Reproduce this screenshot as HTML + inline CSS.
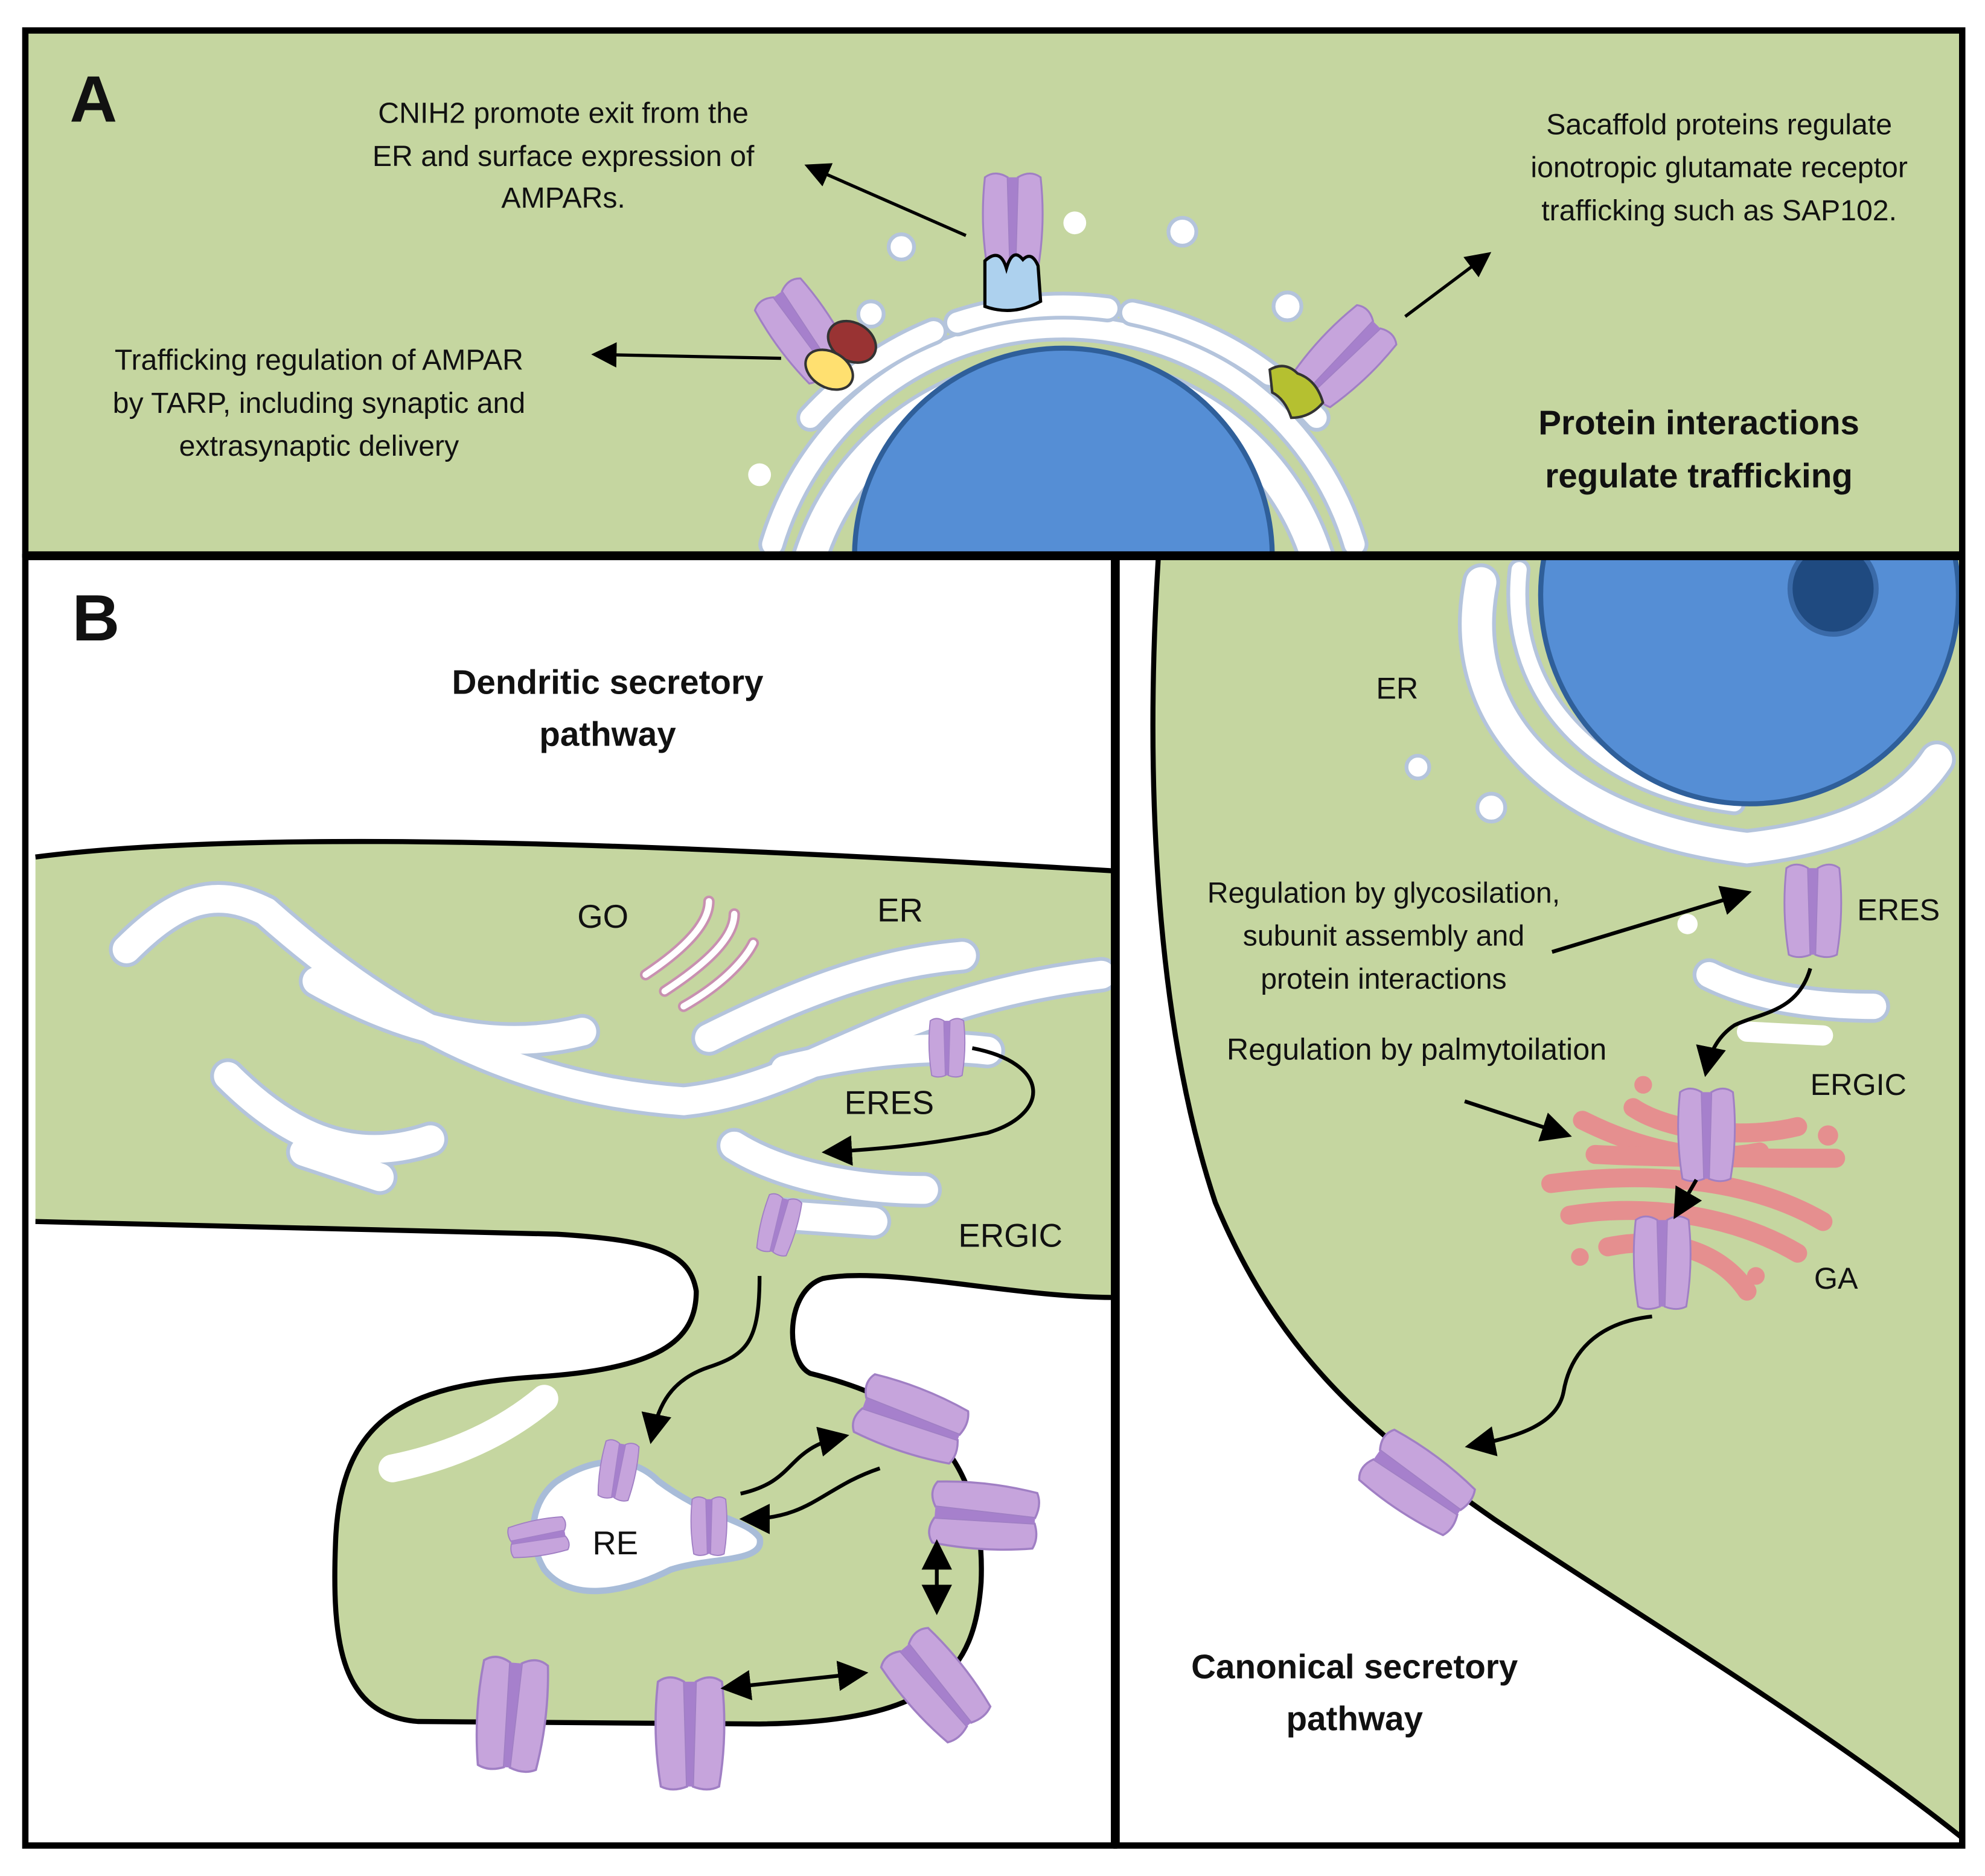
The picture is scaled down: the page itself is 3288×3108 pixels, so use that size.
<!DOCTYPE html>
<html><head><meta charset="utf-8"><style>
html,body{margin:0;padding:0;background:#fff}
svg{display:block}
text{font-family:"Liberation Sans",sans-serif;fill:#111}
</style></head><body>
<svg width="3288" height="3108" viewBox="0 0 1568 1482" xmlns="http://www.w3.org/2000/svg">
<defs>
<marker id="ah" markerWidth="8" markerHeight="8" refX="6" refY="4" orient="auto" markerUnits="strokeWidth"><path d="M0,0 L8,4 L0,8 Z" fill="#000"/></marker>
<marker id="ah2" markerWidth="8" markerHeight="8" refX="2" refY="4" orient="auto-start-reverse" markerUnits="strokeWidth"><path d="M0,0 L8,4 L0,8 Z" fill="#000"/></marker>
<g id="rec">
<path d="M-22,-36 Q-14,-42 -4,-36 L-2,36 Q-12,40 -20,36 Q-26,0 -22,-36Z" fill="#c6a4dc" stroke="#a07fc4" stroke-width="1.5"/>
<path d="M22,-36 Q14,-42 4,-36 L2,36 Q12,40 20,36 Q26,0 22,-36Z" fill="#c6a4dc" stroke="#a07fc4" stroke-width="1.5"/>
<path d="M-4,-36 L4,-36 L2,36 L-2,36Z" fill="#a680cc"/>
</g>
<g id="recs"><use href="#rec" transform="scale(0.6)"/></g>
<clipPath id="cpA"><rect x="20" y="24" width="1530" height="414"/></clipPath>
<clipPath id="cpR"><rect x="882" y="442" width="666" height="1016"/></clipPath>
<clipPath id="cpL"><rect x="20" y="442" width="860" height="1016"/></clipPath>
</defs>

<!-- Panel A -->
<rect x="20" y="24" width="1530" height="414" fill="#c5d6a0"/>
<g clip-path="url(#cpA)">
 <g fill="none" stroke-linecap="round">
  <path d="M640,440 A210,210 0 0 1 1040,440" stroke="#b4c4dc" stroke-width="30"/>
  <path d="M640,440 A210,210 0 0 1 1040,440" stroke="#fff" stroke-width="24"/>
  <path d="M610,430 A240,240 0 0 1 1070,430" stroke="#b4c4dc" stroke-width="22"/>
  <path d="M610,430 A240,240 0 0 1 1070,430" stroke="#fff" stroke-width="16"/>
  <path d="M640,330 A270,270 0 0 1 1040,330" stroke="#b4c4dc" stroke-width="22" stroke-dasharray="120 20"/>
  <path d="M640,330 A270,270 0 0 1 1040,330" stroke="#fff" stroke-width="16" stroke-dasharray="120 20"/>
 </g>
 <circle cx="840" cy="440" r="165" fill="#558ed5" stroke="#2f5f9a" stroke-width="4"/>
 <circle cx="688" cy="248" r="10" fill="#fff" stroke="#b4c4dc" stroke-width="3"/>
 <circle cx="934" cy="183" r="11" fill="#fff" stroke="#b4c4dc" stroke-width="3"/>
 <circle cx="1017" cy="242" r="11" fill="#fff" stroke="#b4c4dc" stroke-width="3"/>
 <circle cx="849" cy="176" r="9" fill="#fff"/>
 <circle cx="600" cy="375" r="9" fill="#fff"/>
 <circle cx="712" cy="195" r="10" fill="#fff" stroke="#b4c4dc" stroke-width="3"/>
</g>
<use href="#rec" transform="translate(800,176)"/>
<path d="M778,206 Q790,195 795,212 Q800,195 808,205 Q815,198 820,210 L822,238 Q800,250 778,242 Z" fill="#add1ee" stroke="#000" stroke-width="2.5"/>
<use href="#rec" transform="translate(635,262) rotate(-35)"/>
<ellipse cx="673" cy="270" rx="20" ry="15" transform="rotate(30 673 270)" fill="#993333" stroke="#333" stroke-width="2"/>
<ellipse cx="655" cy="292" rx="20" ry="14" transform="rotate(30 655 292)" fill="#ffe070" stroke="#333" stroke-width="2"/>
<use href="#rec" transform="translate(1062,282) rotate(45)"/>
<path d="M1003,292 Q1015,285 1025,295 Q1040,300 1045,318 Q1035,330 1020,330 Q1015,315 1005,310 Z" fill="#b5c030" stroke="#333" stroke-width="2"/>

<text x="55" y="96" font-size="52" font-weight="bold" style="font-weight:bold">A</text>
<g font-size="23" text-anchor="middle">
 <text x="445" y="97">CNIH2 promote exit from the</text>
 <text x="445" y="131">ER and surface expression of</text>
 <text x="445" y="164">AMPARs.</text>
 <text x="252" y="292">Trafficking regulation of AMPAR</text>
 <text x="252" y="326">by TARP, including synaptic and</text>
 <text x="252" y="360">extrasynaptic delivery</text>
 <text x="1358" y="106">Sacaffold proteins regulate</text>
 <text x="1358" y="140">ionotropic glutamate receptor</text>
 <text x="1358" y="174">trafficking such as SAP102.</text>
</g>
<g font-size="27" font-weight="bold" text-anchor="middle">
 <text x="1342" y="343">Protein interactions</text>
 <text x="1342" y="385">regulate trafficking</text>
</g>
<g stroke="#000" stroke-width="2.5" fill="none">
 <line x1="763" y1="186" x2="640" y2="132" marker-end="url(#ah)"/>
 <line x1="617" y1="283" x2="472" y2="280" marker-end="url(#ah)"/>
 <line x1="1110" y1="250" x2="1174" y2="202" marker-end="url(#ah)"/>
</g>

<!-- Panel B left -->
<g clip-path="url(#cpL)">
<path d="M28,677 C200,655 500,665 880,688 L880,1025 C800,1025 700,1000 650,1010 C620,1020 620,1075 640,1085 C700,1100 780,1130 775,1250 C770,1320 740,1360 600,1362 L330,1360 C270,1355 262,1300 265,1220 C268,1120 320,1095 420,1088 C520,1082 550,1060 550,1020 C545,990 520,980 440,975 L28,965" fill="#c5d6a0" stroke="#000" stroke-width="4"/>
<g fill="none" stroke-linecap="round">
 <g stroke="#b4c4dc" stroke-width="28">
  <path d="M100,750 C140,710 170,700 210,720"/>
  <path d="M210,720 C300,800 400,860 540,870 C640,860 700,790 870,770"/>
  <path d="M180,850 C230,900 280,920 340,900"/>
  <path d="M240,910 L300,930"/>
  <path d="M580,905 C620,930 680,940 730,940"/>
  <path d="M620,960 L690,965"/>
  <path d="M250,775 C330,820 400,830 460,815"/>
  <path d="M560,820 C640,780 700,760 760,755"/>
  <path d="M620,845 C680,830 740,825 780,830"/>
 </g>
 <g stroke="#fff" stroke-width="22">
  <path d="M100,750 C140,710 170,700 210,720"/>
  <path d="M210,720 C300,800 400,860 540,870 C640,860 700,790 870,770"/>
  <path d="M180,850 C230,900 280,920 340,900"/>
  <path d="M240,910 L300,930"/>
  <path d="M580,905 C620,930 680,940 730,940"/>
  <path d="M620,960 L690,965"/>
  <path d="M250,775 C330,820 400,830 460,815"/>
  <path d="M560,820 C640,780 700,760 760,755"/>
  <path d="M620,845 C680,830 740,825 780,830"/>
  <path d="M310,1160 C360,1150 400,1130 430,1105"/>
 </g>
 <g stroke="#c890b0" stroke-width="9">
  <path d="M510,770 C540,750 560,730 560,712"/><path d="M525,783 C560,760 580,740 580,722"/><path d="M540,795 C575,775 590,755 595,745"/>
 </g>
 <g stroke="#fff" stroke-width="5">
  <path d="M510,770 C540,750 560,730 560,712"/><path d="M525,783 C560,760 580,740 580,722"/><path d="M540,795 C575,775 590,755 595,745"/>
 </g>
</g>
<path d="M440,1170 C470,1150 500,1150 520,1170 C560,1200 590,1200 600,1215 C605,1235 560,1230 530,1240 C490,1260 450,1265 430,1240 C415,1215 420,1185 440,1170 Z" fill="#fff" stroke="#a8bcd8" stroke-width="5"/>
</g>
<use href="#recs" transform="translate(748,828)"/>
<use href="#recs" transform="translate(615,968) rotate(15)"/>
<use href="#recs" transform="translate(488,1162) rotate(10)"/>
<use href="#recs" transform="translate(560,1206)"/>
<use href="#recs" transform="translate(425,1215) rotate(80)"/>
<use href="#rec" transform="translate(720,1122) rotate(-70) scale(1.1)"/>
<use href="#rec" transform="translate(778,1198) rotate(-85) scale(1.1)"/>
<use href="#rec" transform="translate(740,1332) rotate(-40) scale(1.1)"/>
<use href="#rec" transform="translate(404,1355) rotate(5) scale(1.15)"/>
<use href="#rec" transform="translate(545,1370) scale(1.15)"/>
<g stroke="#000" stroke-width="3" fill="none">
 <path d="M768,828 C830,840 830,880 780,895 C730,905 690,908 655,910" marker-end="url(#ah)"/>
 <path d="M600,1008 C600,1060 590,1070 560,1080 C530,1090 520,1110 515,1135" marker-end="url(#ah)"/>
 <path d="M585,1180 C630,1170 620,1145 665,1135" marker-end="url(#ah)"/>
 <path d="M695,1160 C650,1175 640,1200 590,1200" marker-end="url(#ah)"/>
 <line x1="740" y1="1234" x2="740" y2="1270" marker-start="url(#ah2)" marker-end="url(#ah)"/>
 <line x1="587" y1="1332" x2="680" y2="1322" marker-start="url(#ah2)" marker-end="url(#ah)"/>
</g>
<text x="57" y="506" font-size="52" font-weight="bold" style="font-weight:bold">B</text>
<g font-size="27" font-weight="bold" text-anchor="middle">
 <text x="480" y="548">Dendritic secretory</text>
 <text x="480" y="589">pathway</text>
</g>
<g font-size="26">
 <text x="456" y="733">GO</text>
 <text x="693" y="728">ER</text>
 <text x="667" y="880">ERES</text>
 <text x="757" y="985">ERGIC</text>
 <text x="468" y="1228">RE</text>
</g>

<!-- Panel B right -->
<g clip-path="url(#cpR)">
<path d="M915,440 C905,600 910,800 960,950 C1010,1070 1080,1130 1180,1200 C1300,1280 1450,1370 1560,1460 L1560,440 Z" fill="#c5d6a0" stroke="#000" stroke-width="4"/>
<g fill="none" stroke-linecap="round">
 <path d="M1170,460 C1150,560 1220,650 1380,670 C1470,660 1510,630 1530,600" stroke="#b4c4dc" stroke-width="30"/>
 <path d="M1170,460 C1150,560 1220,650 1380,670 C1470,660 1510,630 1530,600" stroke="#fff" stroke-width="24"/>
 <path d="M1200,450 C1190,540 1250,620 1370,635" stroke="#b4c4dc" stroke-width="18"/>
 <path d="M1200,450 C1190,540 1250,620 1370,635" stroke="#fff" stroke-width="12"/>
 <path d="M1350,770 C1390,790 1440,795 1480,795" stroke="#b4c4dc" stroke-width="26"/>
 <path d="M1350,770 C1390,790 1440,795 1480,795" stroke="#fff" stroke-width="20"/>
 <path d="M1380,815 L1440,818" stroke="#fff" stroke-width="16"/>
 <g stroke="#e58f8f" stroke-width="15">
  <path d="M1250,885 C1290,905 1340,920 1390,910"/>
  <path d="M1290,875 C1320,895 1380,900 1420,890"/>
  <path d="M1225,935 C1300,925 1380,930 1440,965"/>
  <path d="M1240,960 C1300,950 1370,960 1420,990"/>
  <path d="M1270,985 C1320,975 1360,990 1380,1020"/>
  <path d="M1260,912 C1320,915 1400,915 1450,915"/>
 </g>
</g>
<circle cx="1382" cy="470" r="165" fill="#558ed5" stroke="#2f5f9a" stroke-width="4"/>
<ellipse cx="1448" cy="465" rx="34" ry="36" fill="#1f4a80" stroke="#3a6aa8" stroke-width="4"/>
<circle cx="1120" cy="606" r="9" fill="#fff" stroke="#b4c4dc" stroke-width="3"/>
<circle cx="1178" cy="638" r="11" fill="#fff" stroke="#b4c4dc" stroke-width="3"/>
<circle cx="1333" cy="730" r="8" fill="#fff"/>
<g fill="#e58f8f"><circle cx="1298" cy="857" r="7"/><circle cx="1444" cy="897" r="8"/><circle cx="1248" cy="993" r="7"/><circle cx="1387" cy="1008" r="7"/></g>
</g>
<use href="#rec" transform="translate(1432,720) scale(0.95)"/>
<use href="#rec" transform="translate(1348,897) scale(0.95)"/>
<use href="#rec" transform="translate(1313,998) scale(0.95)"/>
<use href="#rec" transform="translate(1120,1172) rotate(-55) scale(1.1)"/>
<g stroke="#000" stroke-width="3" fill="none">
 <path d="M1430,765 C1420,800 1390,800 1370,810 C1355,820 1350,835 1348,845" marker-end="url(#ah)"/>
 <line x1="1340" y1="932" x2="1325" y2="958" marker-end="url(#ah)"/>
 <path d="M1305,1040 C1260,1045 1240,1070 1235,1100 C1230,1125 1200,1135 1163,1142" marker-end="url(#ah)"/>
 <line x1="1226" y1="752" x2="1378" y2="706" marker-end="url(#ah)"/>
 <line x1="1157" y1="870" x2="1236" y2="896" marker-end="url(#ah)"/>
</g>
<g font-size="24">
 <text x="1087" y="552">ER</text>
 <text x="1467" y="727">ERES</text>
 <text x="1430" y="865">ERGIC</text>
 <text x="1433" y="1018">GA</text>
 <text x="969" y="837">Regulation by palmytoilation</text>
</g>
<g font-size="23" text-anchor="middle">
 <text x="1093" y="713">Regulation by glycosilation,</text>
 <text x="1093" y="747">subunit assembly and</text>
 <text x="1093" y="781">protein interactions</text>
</g>
<g font-size="27" font-weight="bold" text-anchor="middle">
 <text x="1070" y="1326">Canonical  secretory</text>
 <text x="1070" y="1367">pathway</text>
</g>

<!-- frames -->
<g fill="none" stroke="#000" stroke-width="5">
 <rect x="20" y="24" width="1530" height="414"/>
 <rect x="20" y="440" width="860" height="1018"/>
 <rect x="882" y="440" width="668" height="1018"/>
</g>
</svg>
</body></html>
